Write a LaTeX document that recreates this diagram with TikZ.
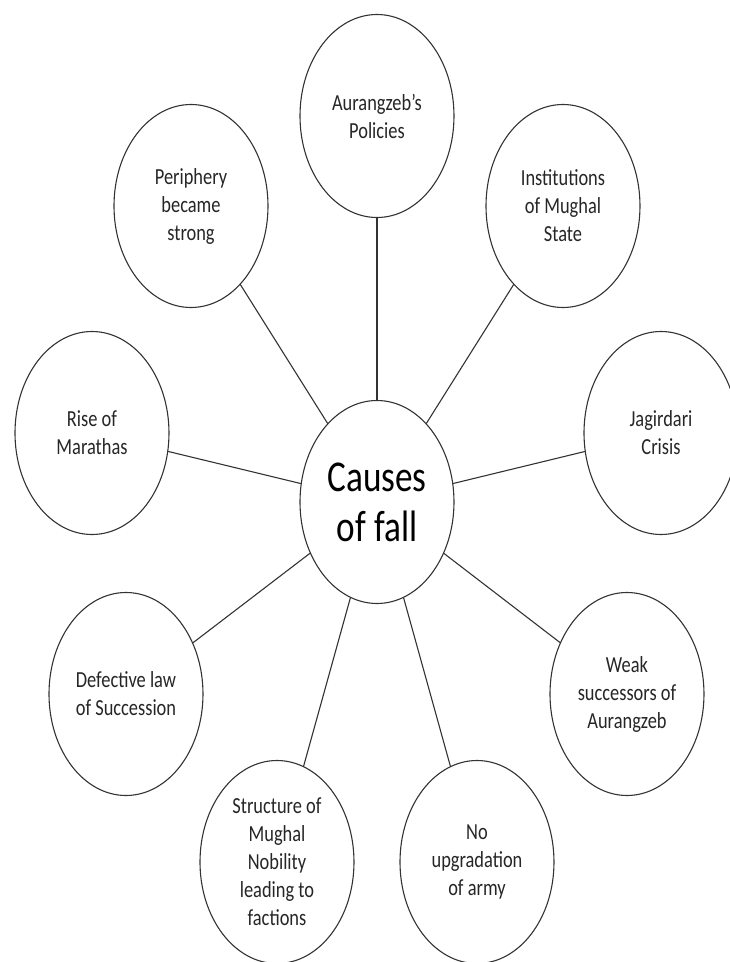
\documentclass[tikz,border=0pt]{standalone}
\usepackage{fontspec}
\setmainfont{Carlito}[FakeStretch=0.8]
\usetikzlibrary{shapes.geometric}
\tikzset{
	cause/.style = {draw = black!80, ellipse, minimum width = 154pt, minimum height = 203pt,
		inner sep = 0pt, align = center, text = black!85, font = \fontsize{23}{28}\selectfont},
	hub/.style = {cause, text = black, font = \fontsize{44}{50}\selectfont},
}
\begin{document}
\begin{tikzpicture}[x = 1pt, y = 1pt, line join = round, line cap = round, line width = 1.1pt]
	\useasboundingbox (-377,-460) rectangle (353,502);
	\node[hub] (fall) at (0,0) {Causes\\of fall};
	\foreach \n/\p/\t in {
		aur/{0,386}/{Aurangzeb's\\Policies},
		inst/{186,296}/{Institutions\\of Mughal\\State},
		jag/{284,69}/{Jagirdari\\Crisis},
		weak/{250,-192}/{Weak\\successors of\\Aurangzeb},
		army/{100,-360}/{No\\upgradation\\of army},
		nob/{-100,-360}/{Structure of\\Mughal\\Nobility\\leading to\\factions},
		law/{-251,-192}/{Defective law\\of Succession},
		mar/{-285,69}/{Rise of\\Marathas},
		peri/{-186,296}/{Periphery\\became\\strong}}
	{
	\node[cause] (\n) at (\p) {\t};
	\draw[black!80] (fall) -- (\n);
	}
\end{tikzpicture}
\end{document}
